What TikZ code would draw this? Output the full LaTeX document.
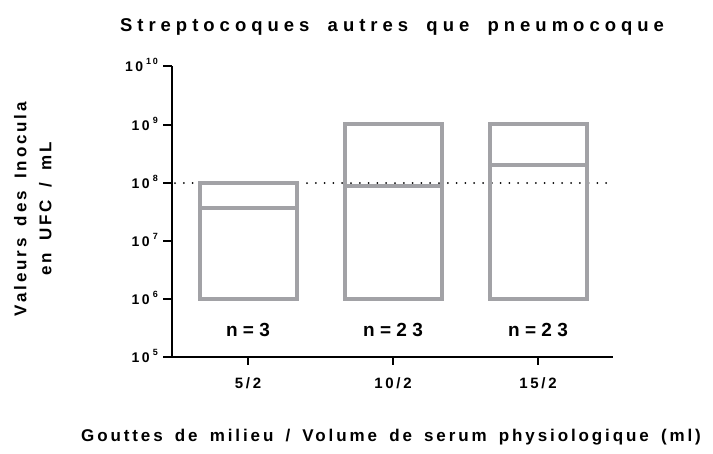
\documentclass[tikz,border=0pt]{standalone}
\usepackage{fontspec}
\setmainfont{Liberation Sans}
\newfontfamily\titlefont[LetterSpace=27, WordSpace=1.8]{Liberation Sans}
\newfontfamily\axisfont[LetterSpace=17, WordSpace=1.6]{Liberation Sans}
\newfontfamily\tickfont[LetterSpace=18]{Liberation Sans}
\newfontfamily\nfont[LetterSpace=28]{Liberation Sans}
\usetikzlibrary{positioning}
\definecolor{boxgray}{HTML}{A2A2A6}

\begin{document}
\begin{tikzpicture}[x=1pt, y=-1pt,
        boxline/.style={draw=boxgray, line width=3.6pt},
        axisline/.style={line width=2.6pt},
        ticklabel/.style={anchor=base east, inner sep=0pt, font=\tickfont\bfseries\fontsize{14}{14}\selectfont},
        catlabel/.style={inner sep=0pt, font=\tickfont\bfseries\fontsize{15}{15}\selectfont},
        nlabel/.style={inner sep=0pt, font=\nfont\bfseries\fontsize{19}{19}\selectfont}]
        \useasboundingbox (0,0) rectangle (713,453);

        % titles
        \node[font=\titlefont\bfseries\fontsize{18.5}{18.5}\selectfont] (title) at (392,27) {Streptocoques autres que pneumocoque};
        \node[font=\axisfont\bfseries\fontsize{17}{17}\selectfont] (xtitle) at (391,437) {Gouttes de milieu / Volume de serum physiologique (ml)};
        \node[rotate=90, align=center, font=\axisfont\bfseries\fontsize{17}{25}\selectfont] (ytitle) at (33,209) {Valeurs des Inocula\\en UFC / mL};

        % axes
        \draw[axisline] (172,66) -- (172,357) -- (613,357);
        \foreach \y/\e in {66/10, 125/9, 183/8, 241/7, 299/6, 357/5} {
            \draw[axisline] (163,\y) -- (172,\y);
            \node[ticklabel] at (158,\y+5) {10\hspace{3pt}\raisebox{7pt}{\fontsize{9}{9}\selectfont\e}};
        }
        \foreach \x/\c in {248/{5/2}, 393/{10/2}, 538/{15/2}} {
            \draw[axisline] (\x,357) -- (\x,365);
            \node[catlabel] at (\x,383) {\c};
        }

        % seuil 10^8
        \draw[line width=2pt, dash pattern=on 0pt off 8.8pt, line cap=round] (175,183) -- (613,183);

        % boites
        \draw[boxline] (200,183) rectangle (297,299);
        \draw[boxline] (200,208) -- (297,208);
        \draw[boxline] (345,124) rectangle (442,299);
        \draw[boxline] (345,186) -- (442,186);
        \draw[boxline] (490,124) rectangle (587,299);
        \draw[boxline] (490,165) -- (587,165);

        % effectifs
        \node[nlabel] (n1) at (248,330) {n=3};
        \node[nlabel] (n2) at (393,330) {n=23};
        \node[nlabel] (n3) at (538,330) {n=23};
\end{tikzpicture}
\end{document}
